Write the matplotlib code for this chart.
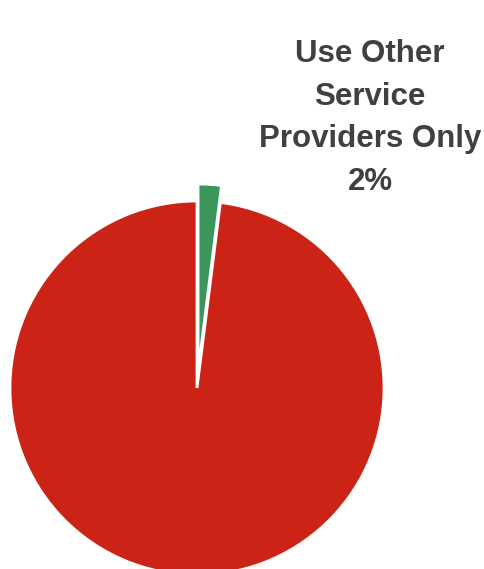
import matplotlib.pyplot as plt

plt.rcParams["font.family"] = ["Liberation Sans", "DejaVu Sans"]

# share of respondents
labels = ["Use Other\nService\nProviders Only", ""]
shares = [2, 98]
colors = ["#3a965a", "#cb2315"]

W, H = 485, 569
fig = plt.figure(figsize=(W / 100, H / 100), dpi=100)
ax = fig.add_axes([0, 0, 1, 1])

cx, cy, r = 197, H - 388, 187

ax.pie(shares, colors=colors, startangle=90, counterclock=False,
       center=(cx, cy), radius=r, explode=[17, 0],
       wedgeprops=dict(edgecolor="white", linewidth=2.0))

# pie() rescales the axes, so pin the pixel frame afterwards
ax.set_xlim(0, W)
ax.set_ylim(0, H)
ax.set_aspect("equal")
ax.axis("off")

ax.text(370, H - 118, f"{labels[0]}\n{shares[0]}%", ha="center", va="center",
        fontsize=22.5, fontweight="bold", color="#404040", linespacing=1.54)

fig.savefig("out.png", dpi=100)
